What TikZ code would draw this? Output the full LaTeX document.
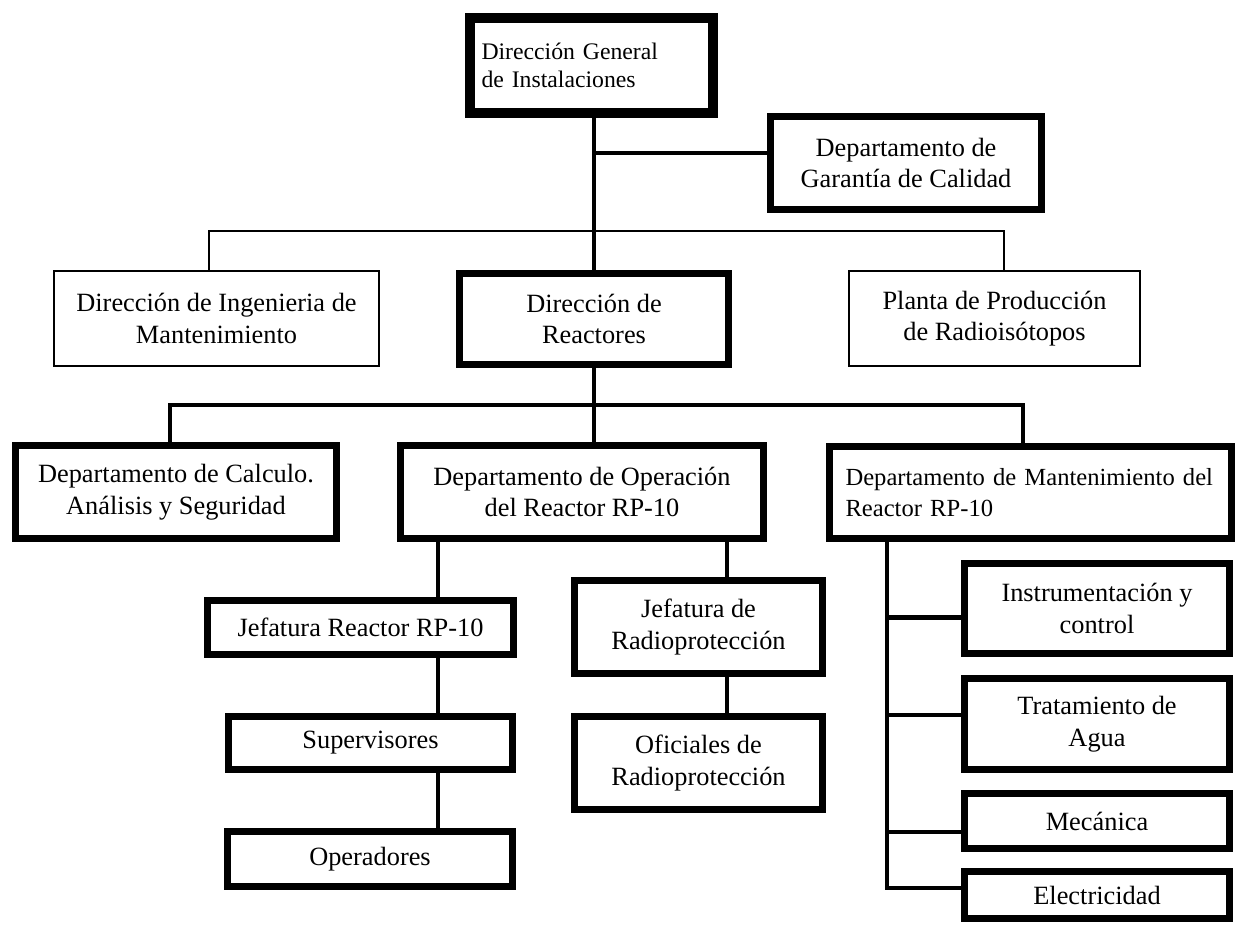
\documentclass[tikz,border=0pt]{standalone}
\usepackage{fontspec}
\setmainfont{Liberation Serif}
\begin{document}
\begin{tikzpicture}[x=0.02cm,y=-0.02cm,
  font=\fontsize{15}{18}\selectfont,
  heavy/.style={draw,line width=3.8pt,align=center,inner sep=0pt},
  light/.style={draw,line width=1.1pt,align=center,inner sep=0pt},
  link/.style={line width=2.8pt},
  thinlink/.style={line width=1.5pt}]
\useasboundingbox (0,0) rectangle (1237,924);

\node [heavy,line width=5.5pt,minimum width=4.86cm,minimum height=1.9cm,align=left,text width=4.4cm,font=\fontsize{13.5}{16}\selectfont] (dgi) at (591.5,65.5) {Dirección General\\de Instalaciones};
\node [heavy,minimum width=5.42cm,minimum height=1.86cm] (gar) at (906,163) {Departamento de\\Garantía de Calidad};

\node [light,minimum width=6.5cm,minimum height=1.9cm] (ing) at (216.5,318.5) {Dirección de Ingenieria de\\Mantenimiento};
\node [heavy,minimum width=5.38cm,minimum height=1.82cm] (rea) at (594,319) {Dirección de\\Reactores};
\node [light,minimum width=5.82cm,minimum height=1.9cm] (pla) at (994.5,318.5) {Planta de Producción\\de Radioisótopos};

\node [heavy,minimum width=6.42cm,minimum height=1.86cm] (cal) at (176,492) {Departamento de Calculo.\\Análisis y Seguridad};
\node [heavy,minimum width=7.26cm,minimum height=1.86cm] (ope) at (582,492) {Departamento de Operación\\del Reactor RP-10};
\node [heavy,minimum width=8.04cm,minimum height=1.84cm,align=left,text width=7.4cm,font=\fontsize{14}{18}\selectfont] (man) at (1030.5,492.5) {Departamento de Mantenimiento del\\Reactor RP-10};

\node [heavy,minimum width=6.12cm,minimum height=1.08cm] (jre) at (360.5,627.5) {Jefatura Reactor RP-10};
\node [heavy,minimum width=5.68cm,minimum height=1.06cm] (sup) at (370.5,743) {Supervisores};
\node [heavy,minimum width=5.7cm,minimum height=1.1cm] (opr) at (370,859) {Operadores};
\node [heavy,minimum width=4.96cm,minimum height=1.86cm] (jra) at (698.5,627) {Jefatura de\\Radioprotección};
\node [heavy,minimum width=4.96cm,minimum height=1.86cm] (ofi) at (698.5,763) {Oficiales de\\Radioprotección};

\node [heavy,minimum width=5.3cm,minimum height=1.8cm] (ins) at (1097,608.5) {Instrumentación y\\control};
\node [heavy,minimum width=5.3cm,minimum height=1.82cm] (tra) at (1097,724) {Tratamiento de\\Agua};
\node [heavy,minimum width=5.3cm,minimum height=1.1cm] (mec) at (1097,821) {Mecánica};
\node [heavy,minimum width=5.3cm,minimum height=0.94cm] (ele) at (1097,895) {Electricidad};

% bus heights, drop columns and branch points
\coordinate (busA) at (0,231);
\coordinate (busB) at (0,405);
\coordinate (ingX) at (209,0);
\coordinate (plaX) at (1004,0);
\coordinate (calX) at (170,0);
\coordinate (manX) at (1023,0);
\coordinate (colA) at (438,0);
\coordinate (colB) at (727,0);
\coordinate (spine) at (887,0);
\coordinate (garB) at ([yshift=0.2cm]gar.west);
\coordinate (insB) at ([yshift=-0.18cm]ins.west);
\coordinate (traB) at ([yshift=0.18cm]tra.west);
\coordinate (mecB) at ([yshift=-0.22cm]mec.west);
\coordinate (eleB) at ([yshift=0.14cm]ele.west);

\draw [link] (rea.north |- dgi.south) -- (rea.north);
\draw [link] (rea.north |- garB) -- (garB);
\draw [thinlink] (ingX |- ing.north) -- (ingX |- busA) -- (plaX |- busA) -- (plaX |- pla.north);

\draw [link] (rea.south) -- (rea.south |- ope.north);
\draw [link] (calX |- cal.north) -- (calX |- busB) -- (manX |- busB) -- (manX |- man.north);

\draw [link] (colA |- ope.south) -- (colA |- jre.north);
\draw [link] (colA |- jre.south) -- (colA |- sup.north);
\draw [link] (colA |- sup.south) -- (colA |- opr.north);
\draw [link] (colB |- ope.south) -- (colB |- jra.north);
\draw [link] (colB |- jra.south) -- (colB |- ofi.north);

\draw [link] (spine |- man.south) -- (spine |- eleB) -- (eleB);
\foreach \b in {insB,traB,mecB}
  \draw [link] (spine |- \b) -- (\b);
\end{tikzpicture}
\end{document}
